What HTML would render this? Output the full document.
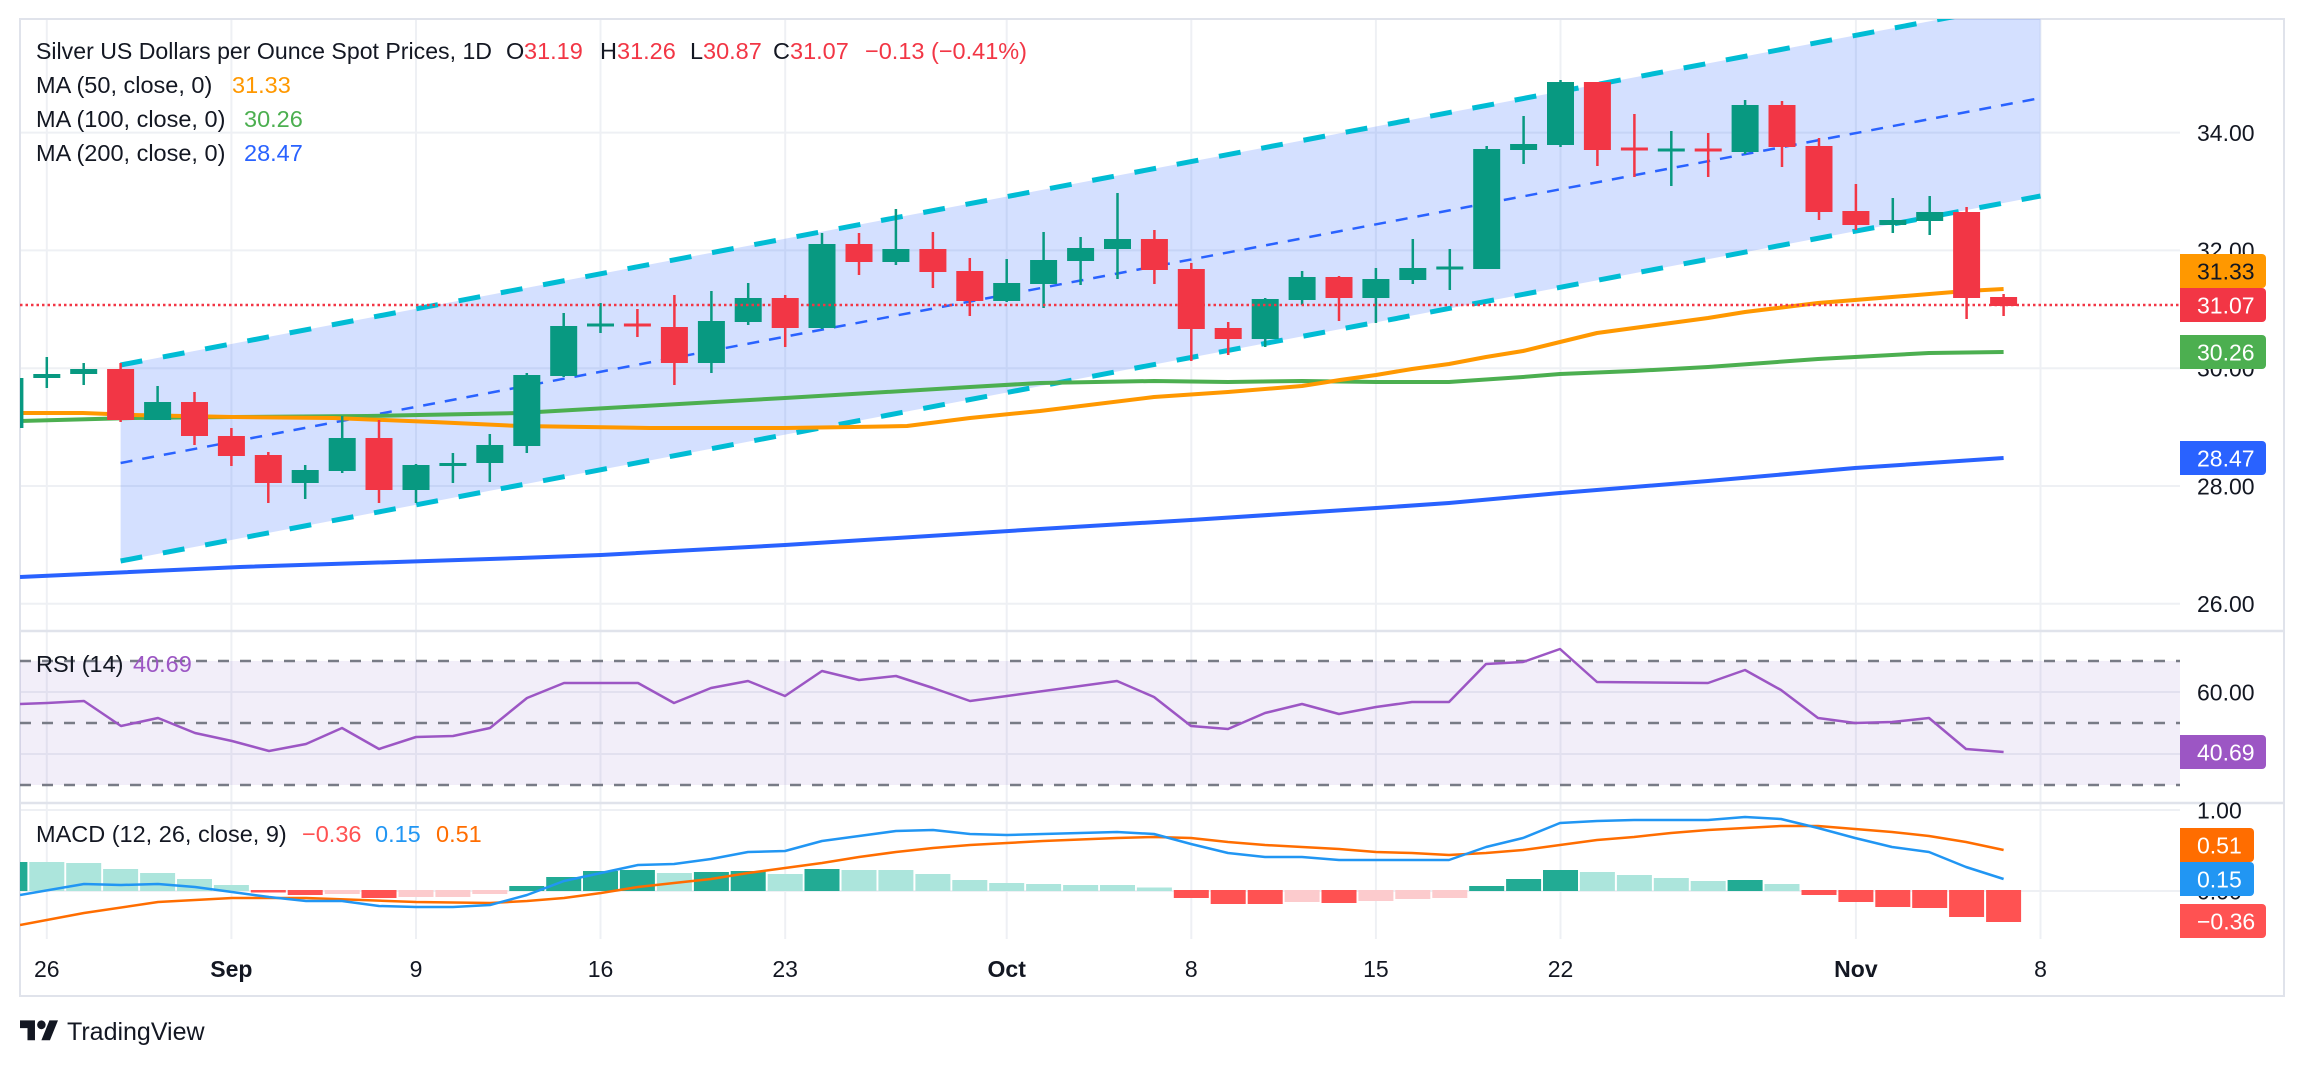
<!DOCTYPE html>
<html><head><meta charset="utf-8">
<style>
html,body{margin:0;padding:0;background:#fff;width:2304px;height:1066px;overflow:hidden}
svg{display:block}
text{font-family:"Liberation Sans",Arial,sans-serif}
</style></head><body>
<svg width="2304" height="1066" viewBox="0 0 2304 1066" xmlns="http://www.w3.org/2000/svg">
<defs>
<clipPath id="cm"><rect x="20" y="19" width="2160" height="611"/></clipPath>
<clipPath id="cr"><rect x="20" y="632" width="2160" height="170"/></clipPath>
<clipPath id="cd"><rect x="20" y="804" width="2160" height="135"/></clipPath>
</defs>
<rect width="2304" height="1066" fill="#fff"/>

<!-- vertical grid -->
<g stroke="#eef0f4" stroke-width="2">
<line x1="46.8" y1="19" x2="46.8" y2="939"/>
<line x1="231.4" y1="19" x2="231.4" y2="939"/>
<line x1="416" y1="19" x2="416" y2="939"/>
<line x1="600.5" y1="19" x2="600.5" y2="939"/>
<line x1="785.2" y1="19" x2="785.2" y2="939"/>
<line x1="1006.7" y1="19" x2="1006.7" y2="939"/>
<line x1="1191.3" y1="19" x2="1191.3" y2="939"/>
<line x1="1375.9" y1="19" x2="1375.9" y2="939"/>
<line x1="1560.5" y1="19" x2="1560.5" y2="939"/>
<line x1="1855.9" y1="19" x2="1855.9" y2="939"/>
<line x1="2040.5" y1="19" x2="2040.5" y2="939"/>
</g>
<!-- horizontal grid -->
<g stroke="#eef0f4" stroke-width="2">
<line x1="20" y1="132.6" x2="2180" y2="132.6"/>
<line x1="20" y1="250.4" x2="2180" y2="250.4"/>
<line x1="20" y1="368.2" x2="2180" y2="368.2"/>
<line x1="20" y1="486" x2="2180" y2="486"/>
<line x1="20" y1="603.8" x2="2180" y2="603.8"/>
<line x1="20" y1="692" x2="2180" y2="692"/>
<line x1="20" y1="754" x2="2180" y2="754"/>
<line x1="20" y1="810" x2="2180" y2="810"/>
<line x1="20" y1="891" x2="2180" y2="891"/>
</g>

<!-- frame & separators -->
<rect x="20" y="19" width="2264" height="977" fill="none" stroke="#e0e3eb" stroke-width="2"/>
<line x1="20" y1="631" x2="2284" y2="631" stroke="#e0e3eb" stroke-width="2.5"/>
<line x1="20" y1="803" x2="2284" y2="803" stroke="#e0e3eb" stroke-width="2.5"/>

<!-- MAIN PANE -->
<g clip-path="url(#cm)">
<polygon points="120.6,365 2040.5,0.2 2040.5,196 120.6,561" fill="#2962ff" fill-opacity="0.2"/>
<line x1="120.6" y1="365" x2="2040.5" y2="0.2" stroke="#00bcd4" stroke-width="5" stroke-dasharray="22 21"/>
<line x1="120.6" y1="561" x2="2040.5" y2="196" stroke="#00bcd4" stroke-width="5" stroke-dasharray="22 21"/>
<line x1="120.6" y1="463" x2="2040.5" y2="98" stroke="#2962ff" stroke-width="2.5" stroke-dasharray="12 10"/>

<polyline fill="none" stroke="#2962ff" stroke-width="4" stroke-linejoin="round" points="20,577 240,567 520,558 601,555 785,545 1040,529 1191,520 1376,508 1449,503 1560,493 1708,481 1855,468 2003.6,458"/>
<polyline fill="none" stroke="#4caf50" stroke-width="4" stroke-linejoin="round" points="20,421 133,418 233,417 367,416 520,413 785,398 970,387 1040,383 1154,381 1228,382 1302,381 1376,382 1449,382 1523,377 1560,374 1634,371 1708,367 1818,359 1929,353 2003.6,352"/>
<polyline fill="none" stroke="#ff9800" stroke-width="4" stroke-linejoin="round" points="20,413 83,413 133,415 233,417 333,418 433,422 520,426 650,428 785,428 853,427 907,426 970,418 1040,411 1154,397 1228,392 1302,386 1340,380 1376,375 1412,369 1449,364 1486,357 1523,351 1560,342 1597,333 1708,318 1745,312 1818,303 1892,297 1966,291 2003.6,289"/>

<g fill="#089981">
<rect x="8.65" y="372" width="2.5" height="60"/><rect x="-3.6" y="378" width="27" height="50"/>
<rect x="45.55" y="357" width="2.5" height="31"/><rect x="33.3" y="374" width="27" height="4"/>
<rect x="82.45" y="363" width="2.5" height="22"/><rect x="70.2" y="369" width="27" height="5"/>
<rect x="156.35" y="386" width="2.5" height="34"/><rect x="144.1" y="402" width="27" height="18"/>
<rect x="303.95" y="465" width="2.5" height="34"/><rect x="291.7" y="470" width="27" height="13"/>
<rect x="340.95" y="416" width="2.5" height="57"/><rect x="328.7" y="438" width="27" height="33"/>
<rect x="414.75" y="464" width="2.5" height="39"/><rect x="402.5" y="465" width="27" height="25"/>
<rect x="451.65" y="453" width="2.5" height="30"/><rect x="439.4" y="463" width="27" height="3"/>
<rect x="488.55" y="434" width="2.5" height="48"/><rect x="476.3" y="445" width="27" height="18"/>
<rect x="525.55" y="373" width="2.5" height="80"/><rect x="513.3" y="375" width="27" height="71"/>
<rect x="562.45" y="313" width="2.5" height="64"/><rect x="550.2" y="326" width="27" height="50"/>
<rect x="599.25" y="303" width="2.5" height="30"/><rect x="587" y="323.5" width="27" height="3"/>
<rect x="710.15" y="291" width="2.5" height="82"/><rect x="697.9" y="321" width="27" height="42"/>
<rect x="746.95" y="283" width="2.5" height="42"/><rect x="734.7" y="298" width="27" height="24"/>
<rect x="820.75" y="233" width="2.5" height="96"/><rect x="808.5" y="244" width="27" height="84"/>
<rect x="894.65" y="209" width="2.5" height="56"/><rect x="882.4" y="249" width="27" height="13"/>
<rect x="1005.45" y="259" width="2.5" height="43"/><rect x="993.2" y="283" width="27" height="18"/>
<rect x="1042.35" y="232" width="2.5" height="76"/><rect x="1030.1" y="260" width="27" height="24"/>
<rect x="1079.35" y="237" width="2.5" height="48"/><rect x="1067.1" y="248" width="27" height="13"/>
<rect x="1116.25" y="193" width="2.5" height="86"/><rect x="1104" y="239" width="27" height="10"/>
<rect x="1263.95" y="298" width="2.5" height="49"/><rect x="1251.7" y="299" width="27" height="40"/>
<rect x="1300.85" y="271" width="2.5" height="34"/><rect x="1288.6" y="277" width="27" height="23"/>
<rect x="1374.65" y="268" width="2.5" height="55"/><rect x="1362.4" y="279" width="27" height="19"/>
<rect x="1411.55" y="239" width="2.5" height="45"/><rect x="1399.3" y="268" width="27" height="12"/>
<rect x="1448.55" y="249" width="2.5" height="41"/><rect x="1436.3" y="266.5" width="27" height="3"/>
<rect x="1485.45" y="146" width="2.5" height="123"/><rect x="1473.2" y="149" width="27" height="120"/>
<rect x="1522.35" y="116" width="2.5" height="48"/><rect x="1510.1" y="144" width="27" height="6"/>
<rect x="1559.25" y="80" width="2.5" height="67"/><rect x="1547" y="82" width="27" height="63"/>
<rect x="1670.05" y="131" width="2.5" height="55"/><rect x="1657.8" y="148.5" width="27" height="3"/>
<rect x="1743.85" y="100" width="2.5" height="54"/><rect x="1731.6" y="105" width="27" height="47"/>
<rect x="1891.55" y="198" width="2.5" height="35"/><rect x="1879.3" y="220" width="27" height="5"/>
<rect x="1928.45" y="196" width="2.5" height="39"/><rect x="1916.2" y="212" width="27" height="9"/>
</g>
<g fill="#f23645">
<rect x="119.35" y="363" width="2.5" height="59"/><rect x="107.1" y="369" width="27" height="51"/>
<rect x="193.25" y="392" width="2.5" height="53"/><rect x="181" y="402" width="27" height="34"/>
<rect x="230.15" y="428" width="2.5" height="38"/><rect x="217.9" y="436" width="27" height="20"/>
<rect x="267.05" y="452" width="2.5" height="51"/><rect x="254.8" y="455" width="27" height="28"/>
<rect x="377.75" y="420" width="2.5" height="83"/><rect x="365.5" y="438" width="27" height="52"/>
<rect x="636.15" y="309" width="2.5" height="28"/><rect x="623.9" y="323.5" width="27" height="3"/>
<rect x="673.15" y="295" width="2.5" height="90"/><rect x="660.9" y="327" width="27" height="36"/>
<rect x="783.95" y="295" width="2.5" height="52"/><rect x="771.7" y="298" width="27" height="30"/>
<rect x="857.75" y="233" width="2.5" height="42"/><rect x="845.5" y="244" width="27" height="18"/>
<rect x="931.65" y="232" width="2.5" height="56"/><rect x="919.4" y="249" width="27" height="23"/>
<rect x="968.55" y="258" width="2.5" height="58"/><rect x="956.3" y="271" width="27" height="30"/>
<rect x="1153.15" y="230" width="2.5" height="54"/><rect x="1140.9" y="239" width="27" height="31"/>
<rect x="1190.05" y="263" width="2.5" height="98"/><rect x="1177.8" y="269" width="27" height="60"/>
<rect x="1226.95" y="322" width="2.5" height="33"/><rect x="1214.7" y="328" width="27" height="11"/>
<rect x="1337.75" y="276" width="2.5" height="45"/><rect x="1325.5" y="277" width="27" height="21"/>
<rect x="1596.15" y="82" width="2.5" height="84"/><rect x="1583.9" y="82" width="27" height="68"/>
<rect x="1633.15" y="114" width="2.5" height="63"/><rect x="1620.9" y="147.5" width="27" height="3"/>
<rect x="1706.95" y="133" width="2.5" height="44"/><rect x="1694.7" y="148.5" width="27" height="3"/>
<rect x="1780.75" y="101" width="2.5" height="66"/><rect x="1768.5" y="105" width="27" height="42"/>
<rect x="1817.75" y="138" width="2.5" height="82"/><rect x="1805.5" y="146" width="27" height="66"/>
<rect x="1854.65" y="184" width="2.5" height="46"/><rect x="1842.4" y="211" width="27" height="14"/>
<rect x="1965.35" y="207" width="2.5" height="112"/><rect x="1953.1" y="212" width="27" height="86"/>
<rect x="2002.35" y="294" width="2.5" height="22"/><rect x="1990.1" y="297" width="27" height="9"/>
</g>
<line x1="20" y1="305" x2="2180" y2="305" stroke="#f23645" stroke-width="2.5" stroke-dasharray="2.5 3"/>
</g>

<!-- RSI PANE -->
<g clip-path="url(#cr)">
<rect x="20" y="661" width="2160" height="124" fill="#7e57c2" fill-opacity="0.1"/>
<g stroke="#787b86" stroke-width="2.5" stroke-dasharray="11 11">
<line x1="20" y1="661" x2="2180" y2="661"/>
<line x1="20" y1="723" x2="2180" y2="723"/>
<line x1="20" y1="785" x2="2180" y2="785"/>
</g>
<polyline fill="none" stroke="#9c56c4" stroke-width="2.5" stroke-linejoin="round" points="20,704 47,703 84,701 121,726 158,718 195,733 232,741 269,751 306,744 342,728 379,749 416,737 453,736 490,728 527,698 564,683 601,683 638,683 674,703 711,688 748,681 785,696 822,671 859,680 896,676 933,688 970,701 1007,696 1117,681 1154,697 1191,726 1228,729 1265,713 1302,704 1339,714 1376,707 1412,702 1449,702 1486,664 1523,662 1560,649 1597,682 1708,683 1745,670 1781,690 1818,718 1855,723 1892,722 1929,718 1966,749 2003.6,752"/>
</g>

<!-- MACD PANE -->
<g clip-path="url(#cd)">
<g fill="#22ab94">
<rect x="-7.6" y="862" width="35" height="29"/>
<rect x="509.3" y="886" width="35" height="5"/>
<rect x="546.2" y="877" width="35" height="14"/>
<rect x="583" y="871" width="35" height="20"/>
<rect x="619.9" y="870" width="35" height="21"/>
<rect x="693.9" y="872" width="35" height="19"/>
<rect x="730.7" y="871" width="35" height="20"/>
<rect x="804.5" y="869" width="35" height="22"/>
<rect x="1469.2" y="886" width="35" height="5"/>
<rect x="1506.1" y="879" width="35" height="12"/>
<rect x="1543" y="870" width="35" height="21"/>
<rect x="1727.6" y="880" width="35" height="11"/>
</g>
<g fill="#ace5dc">
<rect x="29.3" y="862" width="35" height="29"/>
<rect x="66.2" y="863" width="35" height="28"/>
<rect x="103.1" y="869" width="35" height="22"/>
<rect x="140.1" y="873" width="35" height="18"/>
<rect x="177" y="879" width="35" height="12"/>
<rect x="213.9" y="885" width="35" height="6"/>
<rect x="656.9" y="873" width="35" height="18"/>
<rect x="767.7" y="874" width="35" height="17"/>
<rect x="841.5" y="870" width="35" height="21"/>
<rect x="878.4" y="870" width="35" height="21"/>
<rect x="915.4" y="874" width="35" height="17"/>
<rect x="952.3" y="880" width="35" height="11"/>
<rect x="989.2" y="883" width="35" height="8"/>
<rect x="1026.1" y="884" width="35" height="7"/>
<rect x="1063.1" y="885" width="35" height="6"/>
<rect x="1100" y="885" width="35" height="6"/>
<rect x="1136.9" y="887.5" width="35" height="3.5"/>
<rect x="1579.9" y="872" width="35" height="19"/>
<rect x="1616.9" y="875" width="35" height="16"/>
<rect x="1653.8" y="878" width="35" height="13"/>
<rect x="1690.7" y="881" width="35" height="10"/>
<rect x="1764.5" y="884" width="35" height="7"/>
</g>
<g fill="#ff5252">
<rect x="250.8" y="890" width="35" height="2.5"/>
<rect x="287.7" y="890" width="35" height="5"/>
<rect x="361.5" y="890" width="35" height="8"/>
<rect x="1173.8" y="890" width="35" height="8"/>
<rect x="1210.7" y="890" width="35" height="14"/>
<rect x="1247.7" y="890" width="35" height="14"/>
<rect x="1321.5" y="890" width="35" height="13"/>
<rect x="1801.5" y="890" width="35" height="5"/>
<rect x="1838.4" y="890" width="35" height="12"/>
<rect x="1875.3" y="890" width="35" height="17"/>
<rect x="1912.2" y="890" width="35" height="18"/>
<rect x="1949.1" y="890" width="35" height="27"/>
<rect x="1986.1" y="890" width="35" height="32"/>
</g>
<g fill="#fccbcd">
<rect x="324.7" y="890" width="35" height="4"/>
<rect x="398.5" y="890" width="35" height="7"/>
<rect x="435.4" y="890" width="35" height="7"/>
<rect x="472.3" y="890" width="35" height="4"/>
<rect x="1284.6" y="890" width="35" height="12"/>
<rect x="1358.4" y="890" width="35" height="11"/>
<rect x="1395.3" y="890" width="35" height="9"/>
<rect x="1432.3" y="890" width="35" height="8"/>
</g>
<polyline fill="none" stroke="#ff6d00" stroke-width="2.5" stroke-linejoin="round" points="20,925 84,913 158,902 232,898 306,898 416,902 490,903 527,901 564,898 601,893 638,887 674,883 711,879 748,873 785,868 822,863 859,857 896,852 933,848 970,845 1007,843 1043,841 1117,838 1154,837 1191,838 1228,842 1265,845 1302,847 1339,849 1376,852 1412,853 1449,855 1486,853 1523,850 1560,845 1597,840 1634,837 1671,833 1708,830 1745,828 1781,826 1818,826 1855,829 1892,832 1929,836 1966,842 2003.6,850"/>
<polyline fill="none" stroke="#2196f3" stroke-width="2.5" stroke-linejoin="round" points="20,895 84,884 121,885 158,884 195,887 232,892 269,897 306,901 342,901 379,906 416,907 453,907 490,905 527,895 564,881 601,873 638,865 674,864 711,859 748,852 785,851 822,841 859,836 896,831 933,830 970,834 1007,835 1043,834 1117,832 1154,834 1191,844 1228,853 1265,857 1302,857 1339,860 1376,860 1412,860 1449,860 1486,847 1523,838 1560,823 1597,821 1634,820 1708,820 1745,817 1781,819 1818,828 1855,838 1892,847 1929,852 1966,867 2003.6,879"/>
</g>

<!-- price axis text -->
<g font-size="23" fill="#131722">
<text x="2197" y="141">34.00</text>
<text x="2197" y="258.7">32.00</text>
<text x="2197" y="376.5">30.00</text>
<text x="2197" y="494.3">28.00</text>
<text x="2197" y="612">26.00</text>
<text x="2197" y="700.3">60.00</text>
<text x="2197" y="762.3">40.00</text>
<text x="2197" y="818.3">1.00</text>
<text x="2197" y="899.3">0.00</text>
</g>
<!-- axis value boxes -->
<path d="M2180 254h82a4 4 0 0 1 4 4v26a4 4 0 0 1-4 4h-82z" fill="#ff9800"/>
<path d="M2180 288h82a4 4 0 0 1 4 4v26a4 4 0 0 1-4 4h-82z" fill="#f23645"/>
<path d="M2180 335h82a4 4 0 0 1 4 4v26a4 4 0 0 1-4 4h-82z" fill="#4caf50"/>
<path d="M2180 441h82a4 4 0 0 1 4 4v26a4 4 0 0 1-4 4h-82z" fill="#2962ff"/>
<path d="M2180 735h82a4 4 0 0 1 4 4v26a4 4 0 0 1-4 4h-82z" fill="#9c56c4"/>
<path d="M2180 828h70a4 4 0 0 1 4 4v26a4 4 0 0 1-4 4h-70z" fill="#ff6d00"/>
<path d="M2180 862h70a4 4 0 0 1 4 4v26a4 4 0 0 1-4 4h-70z" fill="#2196f3"/>
<path d="M2180 904h82a4 4 0 0 1 4 4v26a4 4 0 0 1-4 4h-82z" fill="#ff5252"/>
<g font-size="23">
<text x="2197" y="279.3" fill="#131722">31.33</text>
<text x="2197" y="313.3" fill="#fff">31.07</text>
<text x="2197" y="360.3" fill="#fff">30.26</text>
<text x="2197" y="466.3" fill="#fff">28.47</text>
<text x="2197" y="760.3" fill="#fff">40.69</text>
<text x="2197" y="853.3" fill="#fff">0.51</text>
<text x="2197" y="887.3" fill="#fff">0.15</text>
<text x="2197" y="929.3" fill="#fff">−0.36</text>
</g>

<!-- time axis -->
<g font-size="23" fill="#131722" text-anchor="middle">
<text x="46.8" y="977">26</text>
<text x="231.4" y="977" font-weight="bold">Sep</text>
<text x="416" y="977">9</text>
<text x="600.5" y="977">16</text>
<text x="785.2" y="977">23</text>
<text x="1006.7" y="977" font-weight="bold">Oct</text>
<text x="1191.3" y="977">8</text>
<text x="1375.9" y="977">15</text>
<text x="1560.5" y="977">22</text>
<text x="1855.9" y="977" font-weight="bold">Nov</text>
<text x="2040.5" y="977">8</text>
</g>

<!-- legends -->
<g font-size="23.5">
<text x="36" y="59" fill="#131722" textLength="456" lengthAdjust="spacingAndGlyphs">Silver US Dollars per Ounce Spot Prices, 1D</text>
<text x="506" y="59" fill="#131722">O</text>
<text x="524" y="59" fill="#f23645">31.19</text>
<text x="600" y="59" fill="#131722">H</text>
<text x="617" y="59" fill="#f23645">31.26</text>
<text x="690" y="59" fill="#131722">L</text>
<text x="703" y="59" fill="#f23645">30.87</text>
<text x="773" y="59" fill="#131722">C</text>
<text x="790" y="59" fill="#f23645">31.07</text>
<text x="865" y="59" fill="#f23645">−0.13 (−0.41%)</text>
<text x="36" y="93" fill="#131722">MA (50, close, 0)</text>
<text x="232" y="93" fill="#ff9800">31.33</text>
<text x="36" y="127" fill="#131722">MA (100, close, 0)</text>
<text x="244" y="127" fill="#4caf50">30.26</text>
<text x="36" y="161" fill="#131722">MA (200, close, 0)</text>
<text x="244" y="161" fill="#2962ff">28.47</text>
<text x="36" y="672" fill="#131722">RSI (14)</text>
<text x="133" y="672" fill="#9c56c4">40.69</text>
<text x="36" y="842" fill="#131722">MACD (12, 26, close, 9)</text>
<text x="302" y="842" fill="#ff5252">−0.36</text>
<text x="375" y="842" fill="#2196f3">0.15</text>
<text x="436" y="842" fill="#ff6d00">0.51</text>
</g>

<!-- logo -->
<g transform="translate(20,1016) scale(1.07,1.1)" fill="#131722">
<path d="M14 22H7V11H0V4h14v18zM28 22h-8l7.5-18h8L28 22z"/>
<circle cx="20" cy="8" r="4"/>
</g>
<text x="67" y="1040" font-size="25" fill="#131722">TradingView</text>
</svg>
</body></html>
